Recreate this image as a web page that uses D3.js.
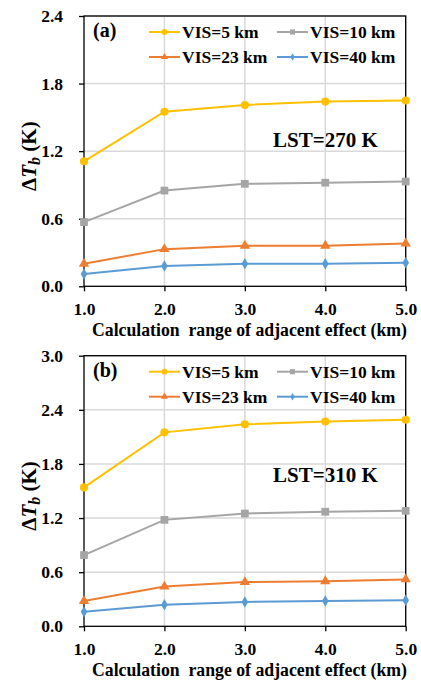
<!DOCTYPE html>
<html>
<head>
<meta charset="utf-8">
<script src="https://cdn.jsdelivr.net/npm/d3@7"></script>
<style>
  html, body { margin: 0; padding: 0; background: #fff; }
  svg { display: block; }
</style>
</head>
<body>
<svg id="chart" width="421" height="683"></svg>
<script>
// ---- data ----
const ranges = [1, 2, 3, 4, 5];
const xTickLabels = ["1.0", "2.0", "3.0", "4.0", "5.0"];
const seriesNames = ["VIS=5 km", "VIS=10 km", "VIS=23 km", "VIS=40 km"];
const seriesColors = ["#FFC000", "#A5A5A5", "#ED7D31", "#5B9BD5"];
const seriesMarkers = ["circle", "square", "triangle", "diamond"];

// Panel (a): LST = 270 K
const vis5A  = [1.11, 1.55, 1.61, 1.64, 1.65];
const vis10A = [0.57, 0.85, 0.91, 0.92, 0.93];
const vis23A = [0.20, 0.33, 0.36, 0.36, 0.38];
const vis40A = [0.11, 0.18, 0.20, 0.20, 0.21];
const yTicksA = [0.0, 0.6, 1.2, 1.8, 2.4];

// Panel (b): LST = 310 K
const vis5B  = [1.54, 2.15, 2.24, 2.27, 2.29];
const vis10B = [0.79, 1.18, 1.25, 1.27, 1.28];
const vis23B = [0.28, 0.44, 0.49, 0.50, 0.52];
const vis40B = [0.16, 0.24, 0.27, 0.28, 0.29];
const yTicksB = [0.0, 0.6, 1.2, 1.8, 2.4, 3.0];

const panels = [
  { tag: "(a)", lst: "LST=270 K", series: [vis5A, vis10A, vis23A, vis40A], yTicks: yTicksA, top: 16, bottom: 286.3, lstY: 146.5 },
  { tag: "(b)", lst: "LST=310 K", series: [vis5B, vis10B, vis23B, vis40B], yTicks: yTicksB, top: 355.7, bottom: 626.3, lstY: 481.5 }
];

const FONT = "'Liberation Serif', 'Times New Roman', Times, serif";
const svg = d3.select("#chart");
const left = 84, right = 405.7;

function markerPath(type, size) {
  const sym = { circle: d3.symbolCircle, square: d3.symbolSquare, triangle: d3.symbolTriangle, diamond: d3.symbolDiamond }[type];
  return d3.symbol().type(sym).size(size)();
}
const markerSizes = { circle: 52, square: 60, triangle: 46, diamond: 38 };
const legendMarkerSizes = { circle: 26, square: 26, triangle: 22, diamond: 16 };

function styleText(sel, size) {
  return sel.style("font-family", FONT).style("font-weight", "bold").style("font-size", size + "px").attr("fill", "#000");
}

panels.forEach(p => {
  const x = d3.scaleLinear().domain([1, 5]).range([left, right]);
  const yMax = p.yTicks[p.yTicks.length - 1];
  const y = d3.scaleLinear().domain([0, yMax]).range([p.bottom, p.top]);
  const g = svg.append("g");

  // gridlines
  g.append("g").selectAll("line.h").data(p.yTicks.slice(1)).join("line")
    .attr("x1", left).attr("x2", right).attr("y1", d => y(d)).attr("y2", d => y(d))
    .attr("stroke", "#d9d9d9").attr("stroke-width", 1.5);
  g.append("g").selectAll("line.v").data(ranges.slice(1)).join("line")
    .attr("x1", d => x(d)).attr("x2", d => x(d)).attr("y1", p.top).attr("y2", p.bottom)
    .attr("stroke", "#d9d9d9").attr("stroke-width", 1.5);

  // axes
  const yAxis = d3.axisLeft(y).tickValues(p.yTicks).tickFormat(d3.format(".1f")).tickSize(5).tickPadding(16);
  const ya = g.append("g").attr("transform", `translate(${left},0)`).call(yAxis);
  const xAxis = d3.axisBottom(x).tickValues(ranges).tickFormat((d, i) => xTickLabels[i]).tickSize(5).tickPadding(11);
  const xa = g.append("g").attr("transform", `translate(0,${p.bottom})`).call(xAxis);
  [ya, xa].forEach(a => {
    a.attr("font-family", null).attr("font-size", null);
    a.select(".domain").remove();
    a.selectAll(".tick line").attr("stroke", "#000").attr("stroke-width", 1.3);
    styleText(a.selectAll(".tick text"), 17.5);
  });

  // frame
  g.append("rect").attr("x", left).attr("y", p.top).attr("width", right - left).attr("height", p.bottom - p.top)
    .attr("fill", "none").attr("stroke", "#000").attr("stroke-width", 1.3);

  // series
  const line = d3.line().x((d, i) => x(ranges[i])).y(d => y(d));
  p.series.forEach((vals, si) => {
    g.append("path").datum(vals).attr("d", line).attr("fill", "none")
      .attr("stroke", seriesColors[si]).attr("stroke-width", 2);
    g.append("g").selectAll("path").data(vals).join("path")
      .attr("transform", (d, i) => `translate(${x(ranges[i])},${y(d)})`)
      .attr("d", markerPath(seriesMarkers[si], markerSizes[seriesMarkers[si]]))
      .attr("fill", seriesColors[si]);
  });

  // panel tag
  styleText(g.append("text").attr("x", 93).attr("y", p.top + 21), 20).text(p.tag);

  // legend
  const legPos = [
    { lx: 149, ty: p.top + 16 }, { lx: 277, ty: p.top + 16 },
    { lx: 149, ty: p.top + 41 }, { lx: 277, ty: p.top + 41 }
  ];
  seriesNames.forEach((name, si) => {
    const lp = legPos[si];
    g.append("line").attr("x1", lp.lx).attr("x2", lp.lx + 31).attr("y1", lp.ty).attr("y2", lp.ty)
      .attr("stroke", seriesColors[si]).attr("stroke-width", 2);
    g.append("path").attr("transform", `translate(${lp.lx + 15.5},${lp.ty})`)
      .attr("d", markerPath(seriesMarkers[si], legendMarkerSizes[seriesMarkers[si]]))
      .attr("fill", seriesColors[si]);
    styleText(g.append("text").attr("x", lp.lx + 33).attr("y", lp.ty + 6), 17.5).text(name);
  });

  // LST annotation
  styleText(g.append("text").attr("x", 273).attr("y", p.lstY), 21).text(p.lst);

  // y label
  const cy = (p.top + p.bottom) / 2 + 5;
  const yl = styleText(g.append("text").attr("transform", `translate(36,${cy}) rotate(-90)`)
    .attr("text-anchor", "middle"), 21);
  yl.append("tspan").text("Δ");
  yl.append("tspan").style("font-style", "italic").text("T");
  yl.append("tspan").style("font-style", "italic").style("font-size", "16px").attr("dy", 4).text("b");
  yl.append("tspan").attr("dy", -4).text(" (K)");

  // x label
  styleText(g.append("text").attr("x", 92).attr("y", p.bottom + 50), 18)
    .attr("textLength", 315).attr("lengthAdjust", "spacingAndGlyphs")
    .style("white-space", "pre")
    .text("Calculation  range of adjacent effect (km)");
});
</script>
</body>
</html>
